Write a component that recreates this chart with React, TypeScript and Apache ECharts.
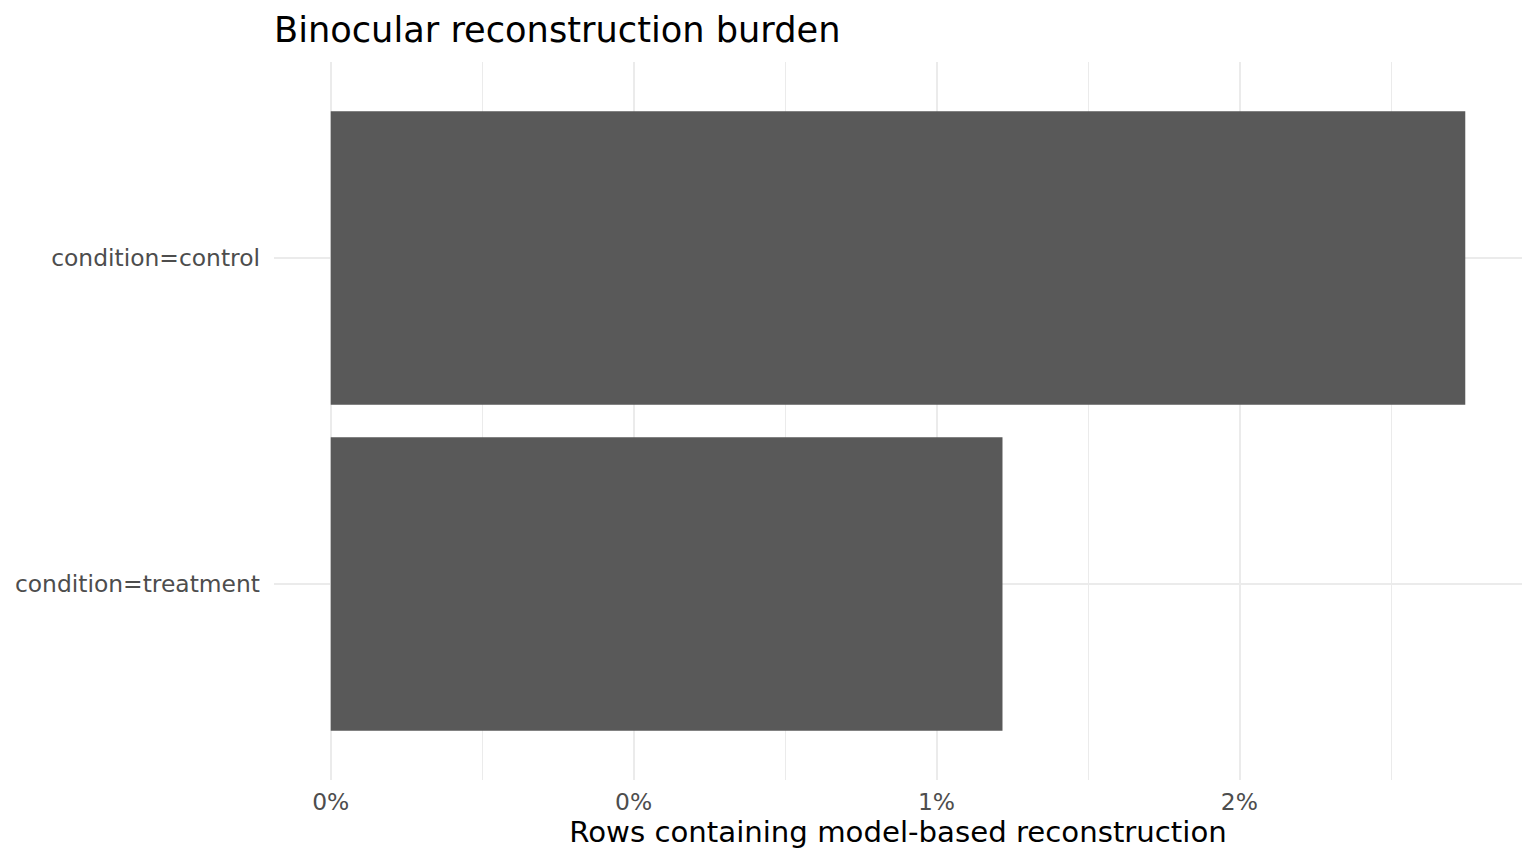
import React, { useEffect, useRef } from "react";
import * as echarts from "echarts";

// Data (values in percent)
const CATEGORIES = ["condition=control", "condition=treatment"];
const VALUES = [1.873, 1.109];
const MAJOR_BREAKS = [0, 0.5, 1, 1.5];
const MINOR_BREAKS = [0.25, 0.75, 1.25, 1.75];
const TICK_LABELS = ["0%", "0%", "1%", "2%"];
const TITLE = "Binocular reconstruction burden";
const X_TITLE = "Rows containing model-based reconstruction";

const FONT = "DejaVu Sans";

export default function App() {
  const ref = useRef<HTMLDivElement>(null);
  useEffect(() => {
    if (!ref.current) return;
    const chart = echarts.init(ref.current, undefined, { renderer: "svg" });
    const dataMax = Math.max(...VALUES);
    const xMin = -0.05 * dataMax;
    const xMax = dataMax * 1.05;
    const catPos = CATEGORIES.map((_, i) => i + 1);
    const yMin = 1 - 0.6;
    const yMax = CATEGORIES.length + 0.6;

    const labelFor = (v: number) => {
      const i = MAJOR_BREAKS.findIndex((b) => Math.abs(b - v) < 1e-9);
      return i >= 0 ? TICK_LABELS[i] : "";
    };

    chart.setOption({
      animation: false,
      backgroundColor: "#ffffff",
      textStyle: { fontFamily: FONT },
      title: {
        text: TITLE,
        left: 269,
        top: 7,
        textStyle: { fontFamily: FONT, fontSize: 35.2, fontWeight: "normal", color: "#000000" },
      },
      grid: [
        { left: 274, right: 14, top: 62, bottom: 84, containLabel: false },
        { left: 274, right: 14, top: 95, bottom: 117, containLabel: false },
      ],
      xAxis: [
        {
          type: "value",
          gridIndex: 0,
          min: xMin,
          max: xMax,
          axisLine: { show: false },
          axisTick: { show: false, customValues: MAJOR_BREAKS },
          axisLabel: {
            customValues: MAJOR_BREAKS,
            formatter: (v: number) => labelFor(v),
            color: "#4d4d4d",
            fontSize: 23.4,
            fontFamily: FONT,
            margin: 10,
          },
          splitLine: { show: true, lineStyle: { color: "#ebebeb", width: 2 } },
          name: X_TITLE,
          nameLocation: "middle",
          nameGap: 33,
          nameTextStyle: { fontFamily: FONT, fontSize: 29.2, color: "#000000" },
          z: 1,
        },
        {
          type: "value",
          gridIndex: 0,
          min: xMin,
          max: xMax,
          axisLine: { show: false },
          axisTick: { show: false, customValues: MINOR_BREAKS },
          axisLabel: { show: false, customValues: MINOR_BREAKS },
          splitLine: { show: true, lineStyle: { color: "#ebebeb", width: 1 } },
          z: 0,
        },
        {
          type: "value",
          gridIndex: 1,
          min: xMin,
          max: xMax,
          show: false,
          splitLine: { show: false },
        },
      ],
      yAxis: [
        {
          type: "value",
          gridIndex: 0,
          min: yMin,
          max: yMax,
          inverse: true,
          axisLine: { show: false },
          axisTick: { show: false, customValues: catPos },
          axisLabel: { show: false, customValues: catPos },
          splitLine: { show: true, lineStyle: { color: "#ebebeb", width: 2 } },
        },
        {
          type: "category",
          gridIndex: 1,
          data: CATEGORIES,
          inverse: true,
          axisLine: { show: false },
          axisTick: { show: false },
          splitLine: { show: false },
          axisLabel: {
            color: "#4d4d4d",
            fontSize: 23.4,
            fontFamily: FONT,
            margin: 14,
          },
        },
      ],
      series: [
        {
          type: "bar",
          xAxisIndex: 2,
          yAxisIndex: 1,
          data: VALUES,
          barWidth: "90%",
          itemStyle: { color: "#595959" },
          z: 2,
        },
      ],
    });
    return () => chart.dispose();
  }, []);
  return (
    <div
      ref={ref}
      style={{ position: "fixed", left: 0, top: 0, width: 1536, height: 864 }}
    />
  );
}
